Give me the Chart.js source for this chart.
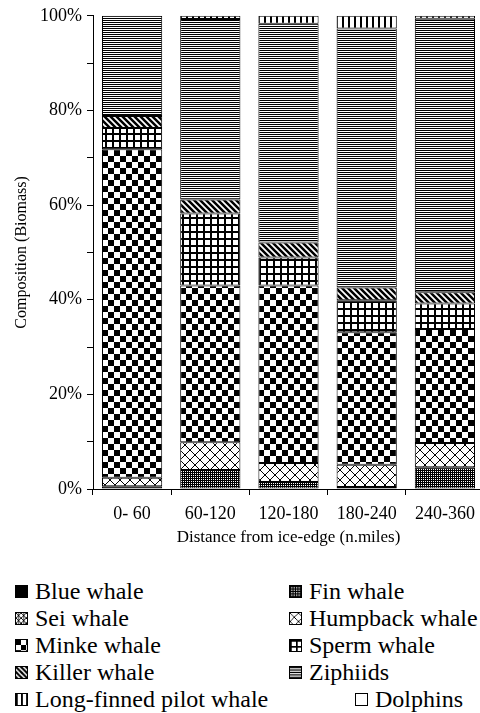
<!DOCTYPE html>
<html lang="en">
<head>
    <meta charset="UTF-8">
    <title>Whale Composition by Distance from Ice-edge</title>
    <script src="https://cdn.jsdelivr.net/npm/chart.js"></script>
    <style>
        body {
            margin: 0;
            background: #fff;
            width: 480px;
            height: 713px;
            overflow: hidden;
            position: relative;
        }
        .chart-box {
            position: absolute;
            left: 0;
            top: 0;
            width: 490px;
            height: 560px;
        }
        .legend-item {
            position: absolute;
            font-family: 'Liberation Serif', 'DejaVu Serif', serif;
            font-size: 24px;
            line-height: 26px;
            color: #000;
            white-space: nowrap;
            display: flex;
            align-items: center;
        }
        .legend-item canvas {
            width: 13px;
            height: 13px;
            border: 1px solid #000;
            margin-right: 7px;
            box-sizing: border-box;
        }
    </style>
</head>
<body>
    <div class="chart-box">
        <canvas id="myChart" width="490" height="560"></canvas>
    </div>
    <div id="legend"></div>

    <script>
        // categories and % biomass per species
        const categories = ['0- 60', '60-120', '120-180', '180-240', '240-360'];
        const blueWhale = [0.6, 0, 0, 0.4, 0];
        const finWhale = [0, 4.0, 1.5, 0, 4.6];
        const seiWhale = [0, 0, 0, 0, 0];
        const humpbackWhale = [1.8, 5.9, 4.0, 4.7, 5.1];
        const minkeWhale = [69.4, 33.1, 37.5, 28.0, 24.1];
        const spermWhale = [4.5, 15.2, 5.9, 6.8, 5.4];
        const killerWhale = [2.5, 3.0, 3.2, 2.7, 2.4];
        const ziphiids = [21.2, 38.1, 46.2, 54.7, 57.8];
        const pilotWhale = [0, 0.7, 1.7, 2.7, 0.6];
        const dolphins = [0, 0, 0, 0, 0];
        const yTicks = [0, 20, 40, 60, 80, 100];

        // small tile patterns imitating the printed hatching
        function tile(w, h, draw) {
            const c = document.createElement('canvas');
            c.width = w; c.height = h;
            const g = c.getContext('2d');
            g.fillStyle = '#fff';
            g.fillRect(0, 0, w, h);
            g.fillStyle = '#000';
            g.strokeStyle = '#000';
            draw(g);
            return c;
        }

        const tiles = {
            blue: tile(4, 4, g => g.fillRect(0, 0, 4, 4)),
            fin: tile(4, 2, g => {
                g.fillRect(0, 0, 4, 1);
                g.fillRect(0, 1, 1, 1);
                g.fillRect(2, 1, 1, 1);
            }),
            sei: tile(6, 6, g => {
                g.lineWidth = 1;
                g.beginPath();
                g.moveTo(0, 0); g.lineTo(6, 6);
                g.moveTo(6, 0); g.lineTo(0, 6);
                g.moveTo(3, 0); g.lineTo(3, 6);
                g.stroke();
            }),
            humpback: tile(10, 10, g => {
                g.lineWidth = 1;
                g.beginPath();
                g.moveTo(0, 0); g.lineTo(10, 10);
                g.moveTo(10, 0); g.lineTo(0, 10);
                g.stroke();
            }),
            minke: tile(12, 12, g => {
                g.fillRect(0, 0, 6, 6);
                g.fillRect(6, 6, 6, 6);
            }),
            sperm: tile(7, 7, g => {
                g.fillRect(0, 0, 7, 2);
                g.fillRect(0, 0, 2, 7);
            }),
            killer: tile(6, 6, g => {
                g.lineWidth = 2.5;
                g.beginPath();
                g.moveTo(-1, -1); g.lineTo(7, 7);
                g.moveTo(-4, 2); g.lineTo(4, 10);
                g.moveTo(2, -4); g.lineTo(10, 4);
                g.stroke();
            }),
            ziphiids: tile(1, 2, g => g.fillRect(0, 0, 1, 1)),
            pilot: tile(6, 1, g => g.fillRect(0, 0, 2, 1)),
            dolphins: tile(2, 2, g => {})
        };

        const ctx = document.getElementById('myChart').getContext('2d');
        const pat = key => ctx.createPattern(tiles[key], 'repeat');

        const series = [
            { label: 'Blue whale', data: blueWhale, key: 'blue' },
            { label: 'Fin whale', data: finWhale, key: 'fin' },
            { label: 'Sei whale', data: seiWhale, key: 'sei' },
            { label: 'Humpback whale', data: humpbackWhale, key: 'humpback' },
            { label: 'Minke whale', data: minkeWhale, key: 'minke' },
            { label: 'Sperm whale', data: spermWhale, key: 'sperm' },
            { label: 'Killer whale', data: killerWhale, key: 'killer' },
            { label: 'Ziphiids', data: ziphiids, key: 'ziphiids' },
            { label: 'Long-finned pilot whale', data: pilotWhale, key: 'pilot' },
            { label: 'Dolphins', data: dolphins, key: 'dolphins' }
        ];

        const font = { family: "'Liberation Serif', 'DejaVu Serif', serif" };

        new Chart(ctx, {
            type: 'bar',
            data: {
                labels: categories,
                datasets: series.map(s => ({
                    label: s.label,
                    data: s.data,
                    backgroundColor: pat(s.key),
                    borderColor: '#000',
                    borderWidth: 1,
                    borderSkipped: false,
                    barPercentage: 0.77,
                    categoryPercentage: 1
                }))
            },
            options: {
                responsive: false,
                animation: false,
                layout: { padding: { top: 15, right: 6, left: 0, bottom: 0 } },
                plugins: {
                    legend: { display: false },
                    tooltip: { enabled: false }
                },
                scales: {
                    x: {
                        stacked: true,
                        afterFit: s => { s.height = 71; },
                        grid: { display: true, drawOnChartArea: false, drawTicks: true, tickLength: 6, color: '#000', offset: true },
                        border: { display: true, color: '#000', width: 1 },
                        ticks: { color: '#000', padding: 8, font: { ...font, size: 18 }, maxRotation: 0 },
                        title: { display: true, text: 'Distance from ice-edge (n.miles)', color: '#000', font: { ...font, size: 17 }, padding: { top: 0, bottom: 12 } }
                    },
                    y: {
                        stacked: true,
                        min: 0,
                        max: 100,
                        afterFit: s => { s.width = 93; },
                        grid: { display: true, drawOnChartArea: false, drawTicks: true, tickLength: 6, color: '#000' },
                        border: { display: true, color: '#000', width: 1 },
                        ticks: {
                            stepSize: 10,
                            color: '#000',
                            padding: 5,
                            font: { ...font, size: 18 },
                            callback: v => yTicks.includes(v) ? v + '%' : ''
                        },
                        title: { display: true, text: 'Composition (Biomass)', color: '#000', font: { ...font, size: 16 }, padding: { top: 12, bottom: 0 } }
                    }
                }
            }
        });

        // two-column legend as in the printed figure
        const legendPos = [
            [15, 591], [289, 591],
            [15, 618], [289, 618],
            [15, 645], [289, 645],
            [15, 672], [289, 672],
            [15, 699], [355, 699]
        ];
        const legend = document.getElementById('legend');
        series.forEach((s, i) => {
            const item = document.createElement('div');
            item.className = 'legend-item';
            item.style.left = legendPos[i][0] + 'px';
            item.style.top = (legendPos[i][1] - 13) + 'px';
            const sw = document.createElement('canvas');
            sw.width = 13; sw.height = 13;
            const g = sw.getContext('2d');
            g.fillStyle = g.createPattern(tiles[s.key], 'repeat');
            g.fillRect(0, 0, 13, 13);
            item.appendChild(sw);
            item.appendChild(document.createTextNode(s.label));
            legend.appendChild(item);
        });
    </script>
</body>
</html>
